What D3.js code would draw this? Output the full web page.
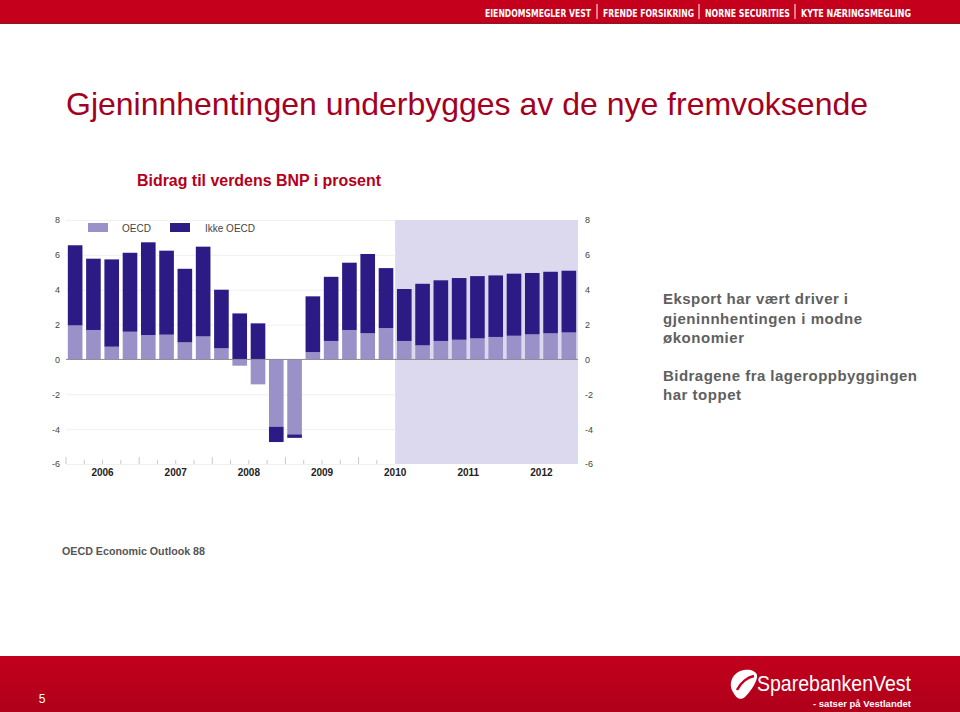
<!DOCTYPE html>
<html><head><meta charset="utf-8">
<script src="https://cdn.jsdelivr.net/npm/d3@7"></script>
<style>body{margin:0;background:#fff;}svg{display:block;font-family:"Liberation Sans",Arial,sans-serif;}</style>
</head><body>
<svg id="c" width="960" height="712"></svg>
<script>
const quarters = ["2006Q1","2006Q2","2006Q3","2006Q4","2007Q1","2007Q2","2007Q3","2007Q4","2008Q1","2008Q2","2008Q3","2008Q4","2009Q1","2009Q2","2009Q3","2009Q4","2010Q1","2010Q2","2010Q3","2010Q4","2011Q1","2011Q2","2011Q3","2011Q4","2012Q1","2012Q2","2012Q3","2012Q4"];
const oecd = [1.95,1.69,0.73,1.59,1.40,1.42,0.98,1.32,0.64,-0.36,-1.43,-3.86,-4.30,0.42,1.06,1.69,1.50,1.80,1.06,0.81,1.06,1.13,1.21,1.29,1.36,1.44,1.50,1.55];
const ikkeOecd = [4.60,4.09,5.01,4.53,5.32,4.82,4.22,5.15,3.36,2.64,2.07,-0.88,-0.20,3.20,3.68,3.86,4.55,3.44,2.98,3.53,3.48,3.54,3.57,3.53,3.56,3.52,3.53,3.54];
const yTicks = [8,6,4,2,0,-2,-4,-6];
const years = ["2006","2007","2008","2009","2010","2011","2012"];
const seriesNames = ["OECD","Ikke OECD"];
const forecastStart = "2010Q3";
const menu = ["EIENDOMSMEGLER VEST","FRENDE FORSIKRING","NORNE SECURITIES","KYTE NÆRINGSMEGLING"];

const svg = d3.select("#c");
const red = "#c4001c";

svg.append("rect").attr("x",0).attr("y",0).attr("width",960).attr("height",23).attr("fill",red);
svg.append("rect").attr("x",0).attr("y",22).attr("width",960).attr("height",2).attr("fill","#9e1020");
const menuG = svg.append("g").attr("font-family","'Liberation Sans Narrow','DejaVu Sans Condensed',Arial,sans-serif").attr("font-weight","bold").attr("font-size",10).attr("fill","#fff");
const menuX = [485,603,705,801];
const menuEnd = [591,694,790,911];
menu.forEach((m,i)=>{
  menuG.append("text").attr("x",menuX[i]).attr("y",17).attr("textLength",menuEnd[i]-menuX[i]).attr("lengthAdjust","spacingAndGlyphs").text(m);
  if(i>0) svg.append("line").attr("x1",menuX[i]-6).attr("x2",menuX[i]-6).attr("y1",4).attr("y2",19).attr("stroke","#fff").attr("stroke-width",1);
});

svg.append("text").attr("x",66).attr("y",115).attr("font-size",32).attr("fill","#a4001f")
  .attr("textLength",802).attr("lengthAdjust","spacingAndGlyphs")
  .text("Gjeninnhentingen underbygges av de nye fremvoksende");
svg.append("text").attr("x",137).attr("y",186).attr("font-size",16).attr("font-weight","bold").attr("fill","#b5001c")
  .attr("textLength",244).attr("lengthAdjust","spacingAndGlyphs")
  .text("Bidrag til verdens BNP i prosent");

const y = d3.scaleLinear().domain([-6,8]).range([464,220]);
const x = d3.scaleBand().domain(quarters).range([66,578]).paddingInner(0.2).paddingOuter(0.1);
const plotL = 66, plotR = 578;

const fx = x(forecastStart) - x.step()*x.paddingInner()/2;
svg.append("rect").attr("x",fx).attr("y",y(8)).attr("width",plotR-fx).attr("height",y(-6)-y(8)).attr("fill","#dcd8ee");

svg.append("g").selectAll("line").data(yTicks.filter(d=>d!==0)).join("line")
  .attr("x1",plotL).attr("x2",fx).attr("y1",d=>y(d)+0.5).attr("y2",d=>y(d)+0.5)
  .attr("stroke","#f0f0f0").attr("stroke-width",1);

const fmt = d=>String(d);
const axL = d3.axisLeft(y).tickValues(yTicks).tickFormat(fmt).tickSize(0).tickPadding(0);
const gL = svg.append("g").attr("transform","translate(60,0)").call(axL);
gL.select(".domain").remove();
gL.selectAll("text").attr("font-size",9).attr("fill","#444").attr("font-family","'Liberation Sans',Arial,sans-serif");
const axR = d3.axisRight(y).tickValues(yTicks).tickFormat(fmt).tickSize(0).tickPadding(0);
const gR = svg.append("g").attr("transform","translate(585,0)").call(axR);
gR.select(".domain").remove();
gR.selectAll("text").attr("font-size",9).attr("fill","#444").attr("font-family","'Liberation Sans',Arial,sans-serif");

const rows = quarters.map((q,i)=>({q, OECD:oecd[i], "Ikke OECD":ikkeOecd[i]}));
const stack = d3.stack().keys(seriesNames).offset(d3.stackOffsetDiverging);
const layers = stack(rows);
const colors = {"OECD":"#9b91c9","Ikke OECD":"#2c1a85"};
svg.append("g").selectAll("g").data(layers).join("g").attr("fill",d=>colors[d.key])
  .selectAll("rect").data(d=>d).join("rect")
  .attr("x",d=>x(d.data.q)).attr("width",x.bandwidth())
  .attr("y",d=>y(Math.max(d[0],d[1]))).attr("height",d=>Math.abs(y(d[0])-y(d[1])));

svg.append("line").attr("x1",plotL).attr("x2",plotR).attr("y1",y(0)).attr("y2",y(0)).attr("stroke","#8a8a95").attr("stroke-width",1);

const tickXs = quarters.map((q,i)=>({i, x: x(q)-x.step()*x.paddingInner()/2})).filter(d=>d.x<fx-1);
svg.append("g").selectAll("line").data(tickXs).join("line")
  .attr("x1",d=>d.x).attr("x2",d=>d.x).attr("y1",d=>d.i%4===0?457:460).attr("y2",464)
  .attr("stroke","#c8c8c8").attr("stroke-width",1);

svg.append("g").selectAll("text").data(years).join("text")
  .attr("x",(d)=>{const q0=x(d+"Q1"), q3=x(d+"Q4")+x.bandwidth(); return (q0+q3)/2;})
  .attr("y",476).attr("text-anchor","middle").attr("font-size",10).attr("font-weight","bold").attr("fill","#222")
  .text(d=>d);

const leg = svg.append("g");
const legX = [88,170], legTX=[122,205];
seriesNames.forEach((s,i)=>{
  leg.append("rect").attr("x",legX[i]).attr("y",223).attr("width",20).attr("height",9).attr("fill",colors[s]);
  leg.append("text").attr("x",legTX[i]).attr("y",232).attr("font-size",10).attr("fill","#444").text(s);
});

const rt = svg.append("g").attr("font-size",15).attr("font-weight","bold").attr("fill","#606060");
[["Eksport har vært driver i",304,185],["gjeninnhentingen i modne",324,199],["økonomier",343,81],["Bidragene fra lageroppbyggingen",381,254],["har toppet",400,78]]
  .forEach(([t,yy,w])=>rt.append("text").attr("x",663).attr("y",yy).attr("textLength",w).attr("lengthAdjust","spacing").text(t));

svg.append("text").attr("x",62).attr("y",555).attr("font-size",10.8).attr("font-weight","bold").attr("fill","#555")
  .attr("textLength",143).attr("lengthAdjust","spacingAndGlyphs").text("OECD Economic Outlook 88");

const grad = svg.append("defs").append("linearGradient").attr("id","bg").attr("x1",0).attr("x2",0).attr("y1",0).attr("y2",1);
grad.append("stop").attr("offset","0%").attr("stop-color","#c2001d");
grad.append("stop").attr("offset","100%").attr("stop-color","#b0001a");
svg.append("rect").attr("x",0).attr("y",656).attr("width",960).attr("height",56).attr("fill","url(#bg)");
svg.append("text").attr("x",42).attr("y",703).attr("text-anchor","middle").attr("font-size",12).attr("fill","#fff").text("5");

const lg = svg.append("g");
lg.append("path").attr("d","M733,692 C728,684 732,672 744,670 C750,669 756,671 757,675 C758,680 752,690 745,697 C740,701 736,698 733,692 Z").attr("fill","#fff");
lg.append("path").attr("d","M737,690 C741,682 748,677 754,676").attr("stroke",red).attr("stroke-width",2.5).attr("fill","none");
lg.append("text").attr("x",757).attr("y",691).attr("font-size",22).attr("fill","#fff").attr("textLength",154).attr("lengthAdjust","spacingAndGlyphs").text("SparebankenVest");
lg.append("text").attr("x",911).attr("y",707).attr("text-anchor","end").attr("font-size",9.5).attr("font-weight","bold").attr("fill","#fff")
  .attr("textLength",98).attr("lengthAdjust","spacingAndGlyphs").text("- satser på Vestlandet");
</script>
</body></html>
